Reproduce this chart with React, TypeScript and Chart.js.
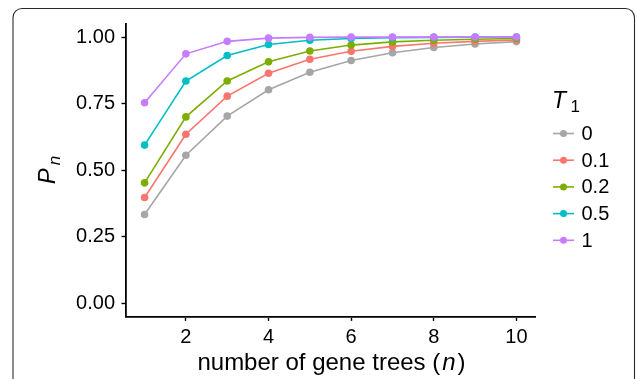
import React, { useEffect, useRef } from "react";
import { Chart, registerables } from "chart.js";

Chart.register(...registerables);

const N_VALUES = [1, 2, 3, 4, 5, 6, 7, 8, 9, 10];
const T_LABELS = ["0", "0.1", "0.2", "0.5", "1"];
const SERIES_T0 = [0.333, 0.556, 0.703, 0.802, 0.868, 0.912, 0.941, 0.961, 0.974, 0.983];
const SERIES_T01 = [0.397, 0.635, 0.778, 0.864, 0.917, 0.947, 0.965, 0.977, 0.984, 0.989];
const SERIES_T02 = [0.452, 0.700, 0.835, 0.907, 0.948, 0.970, 0.982, 0.988, 0.992, 0.995];
const SERIES_T05 = [0.594, 0.835, 0.931, 0.972, 0.988, 0.995, 0.998, 0.999, 1.0, 1.0];
const SERIES_T1 = [0.753, 0.937, 0.984, 0.996, 0.999, 1.0, 1.0, 1.0, 1.0, 1.0];
const ALL_SERIES = [SERIES_T0, SERIES_T01, SERIES_T02, SERIES_T05, SERIES_T1];
const COLORS = ["#A6A6A6", "#F8766D", "#7CAE00", "#00BFC4", "#C77CFF"];
const Y_TICKS = [0, 0.25, 0.5, 0.75, 1.0];
const X_TICKS = [2, 4, 6, 8, 10];

const FONT = '"Liberation Sans", Arial, Helvetica, sans-serif';

const decorPlugin = {
  id: "decor",
  afterDraw(chart: any) {
    const ctx = chart.ctx as CanvasRenderingContext2D;
    const area = chart.chartArea;
    ctx.save();
    // outer rounded frame
    ctx.strokeStyle = "#2a2a2a";
    ctx.lineWidth = 1.1;
    ctx.beginPath();
    (ctx as any).roundRect(13, 8.5, 621.5, 420, 9);
    ctx.stroke();

    ctx.fillStyle = "#000";
    // x title
    const xMain = "number of gene trees (";
    const xIt = "n";
    const xEnd = ")";
    ctx.font = `24px ${FONT}`;
    const w1 = ctx.measureText(xMain).width;
    const w3 = ctx.measureText(xEnd).width;
    ctx.font = `italic 24px ${FONT}`;
    const w2 = ctx.measureText(xIt).width;
    const gap = 2;
    const total = w1 + gap + w2 + gap + w3;
    const cx = (area.left + area.right) / 2 + 1;
    let x0 = cx - total / 2;
    const xb = 370;
    ctx.textBaseline = "alphabetic";
    ctx.textAlign = "left";
    ctx.font = `24px ${FONT}`;
    ctx.fillText(xMain, x0, xb);
    ctx.font = `italic 24px ${FONT}`;
    ctx.fillText(xIt, x0 + w1 + gap, xb);
    ctx.font = `24px ${FONT}`;
    ctx.fillText(xEnd, x0 + w1 + gap + w2 + gap, xb);

    // y title P_n rotated
    ctx.save();
    const cy = (area.top + area.bottom) / 2;
    ctx.translate(55, cy);
    ctx.rotate(-Math.PI / 2);
    ctx.font = `italic 24px ${FONT}`;
    const pw = ctx.measureText("P").width;
    ctx.font = `italic 17px ${FONT}`;
    const nw = ctx.measureText("n").width;
    const tot = pw + 3 + nw;
    ctx.font = `italic 24px ${FONT}`;
    ctx.fillText("P", -tot / 2, 0);
    ctx.font = `italic 17px ${FONT}`;
    ctx.fillText("n", -tot / 2 + pw + 3, 5);
    ctx.restore();

    // legend title
    ctx.font = `italic 23px ${FONT}`;
    ctx.fillText("T", 552, 108);
    ctx.font = `17px ${FONT}`;
    ctx.fillText("1", 570.5, 112);

    // legend items
    ctx.textBaseline = "middle";
    T_LABELS.forEach((lab, i) => {
      const y = 133.5 + i * 26.7;
      ctx.strokeStyle = COLORS[i];
      ctx.lineWidth = 1.6;
      ctx.beginPath();
      ctx.moveTo(553, y);
      ctx.lineTo(574, y);
      ctx.stroke();
      ctx.fillStyle = COLORS[i];
      ctx.beginPath();
      ctx.arc(563.5, y, 3.5, 0, Math.PI * 2);
      ctx.fill();
      ctx.fillStyle = "#000";
      ctx.font = `20px ${FONT}`;
      ctx.fillText(lab, 581.5, y + 1);
    });
    ctx.restore();
  },
};

export default function App() {
  const ref = useRef<HTMLCanvasElement>(null);
  useEffect(() => {
    if (!ref.current) return;
    const datasets = ALL_SERIES.map((s, i) => ({
      label: T_LABELS[i],
      data: s.map((v, j) => ({ x: N_VALUES[j], y: v })),
      borderColor: COLORS[i],
      backgroundColor: COLORS[i],
      pointBackgroundColor: COLORS[i],
      pointBorderWidth: 0,
      pointRadius: 3.8,
      borderWidth: 1.6,
      tension: 0,
      order: ALL_SERIES.length - 1 - i,
    }));
    const chart = new Chart(ref.current, {
      type: "line",
      data: { datasets },
      plugins: [decorPlugin],
      options: {
        animation: false,
        responsive: false,
        devicePixelRatio: 1,
        layout: { padding: { left: 0, right: 102, top: 23.8, bottom: 0 }, autoPadding: false } as any,
        plugins: { legend: { display: false }, tooltip: { enabled: false } },
        scales: {
          x: {
            type: "linear",
            min: 0.55,
            max: 10.45,
            afterBuildTicks: (scale: any) => {
              scale.ticks = X_TICKS.map((v) => ({ value: v }));
            },
            afterFit: (scale: any) => {
              scale.height = 62.6;
            },
            grid: { drawOnChartArea: false, drawTicks: true, tickLength: 4.5, color: "#000", tickColor: "#000", tickWidth: 1.4 } as any,
            border: { display: true, color: "#000", width: 1.8 },
            ticks: { color: "#000", font: { family: FONT, size: 20 }, padding: 5, maxRotation: 0, autoSkip: false },
          },
          y: {
            type: "linear",
            min: -0.05,
            max: 1.05,
            afterBuildTicks: (scale: any) => {
              scale.ticks = Y_TICKS.map((v) => ({ value: v }));
            },
            afterFit: (scale: any) => {
              scale.width = 126;
            },
            grid: { drawOnChartArea: false, drawTicks: true, tickLength: 4.5, color: "#000", tickColor: "#000", tickWidth: 1.4 } as any,
            border: { display: true, color: "#000", width: 1.8 },
            ticks: {
              color: "#000",
              font: { family: FONT, size: 20 },
              padding: 6.5,
              autoSkip: false,
              callback: (v: any) => Number(v).toFixed(2),
            },
          },
        },
      },
    });
    return () => chart.destroy();
  }, []);
  return (
    <div style={{ position: "fixed", left: 0, top: 0, width: 637, height: 379, background: "#fff" }}>
      <canvas ref={ref} width={637} height={379} style={{ width: 637, height: 379, display: "block" }} />
    </div>
  );
}
